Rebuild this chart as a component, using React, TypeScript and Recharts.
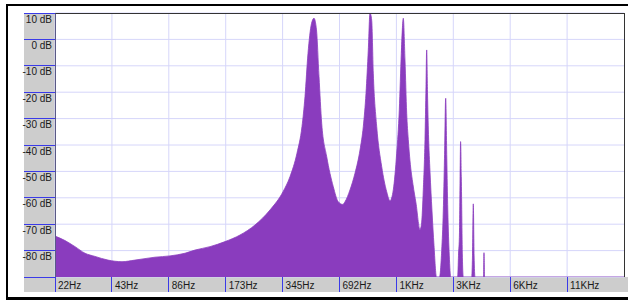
import { Area, AreaChart, CartesianGrid, XAxis, YAxis } from 'recharts';

// frequency bins (Hz) and level (dB)
const freqs = [
  21.53, 24.32, 27.47, 31.03, 35.05, 41.06, 48.7, 57.05, 72.8, 87.39,
  104.9, 118.5, 142.3, 170.8, 205.0, 246.1, 295.5, 346.2, 376.9, 410.5,
  436.3, 452.5, 469.4, 489.8, 505.0, 520.6, 536.7, 554.7, 589.4, 638.8,
  678.9, 716.3, 736.6, 783.0, 832.2, 884.5, 920.8, 951.6, 978.5, 998.9,
  1019.8, 1039.9, 1083.9, 1152.1, 1224.3, 1274.6, 1326.9, 1383.0, 1427.6, 1462.8,
  1498.9, 1530.1, 1562.2, 1592.9, 1626.3, 1686.7, 1749.4, 1836.7, 1870.6, 1912.2,
  1952.1, 1976.0, 1993.0, 2012.6, 2037.1, 2074.8, 2126.0, 2178.4, 2245.8, 2329.5,
  2392.6, 2439.8, 2475.7, 2512.1, 2546.1, 2577.2, 2624.9, 2670.0, 2907.4, 2936.0,
  2972.0, 2993.8, 3012.1, 3037.9, 3082.5, 3112.6, 3448.2, 3482.0, 3516.3, 3550.7,
  3589.9, 3981.3, 4005.4, 4034.9, 22050,
];

const levels = [
  -74.5, -76.2, -78.5, -81, -82.2, -83.6, -84.2, -83.6, -82.5, -82,
  -81, -79.8, -78.5, -76.6, -74.1, -70.3, -64.6, -57.7, -52, -43.1,
  -33, -21.7, -5.3, 6, 8, 3.6, -14, -31.8, -44.4, -55.8,
  -61.5, -62.5, -61.5, -57, -50.7, -41.9, -33, -20.4, -4, 10,
  7.3, -12.8, -33, -48.2, -57.7, -61.1, -57, -43.1, -26.7, -5.3,
  8, -7.8, -28, -38, -46, -55, -62, -72, -70, -57,
  -38, -18, -4, -20, -36, -50, -65, -78, -90, -90,
  -80, -65, -45, -22.3, -45, -64.6, -82, -90, -90, -82,
  -73, -52, -38.7, -52, -84, -90, -90, -82, -62.3, -82,
  -90, -90, -80.8, -90, -90,
];

const freqTicks = [21.53, 43.07, 86.13, 172.27, 344.53, 689.06, 1378.1, 2756.3, 5512.5, 11025];
const freqLabels = ['22Hz', '43Hz', '86Hz', '173Hz', '345Hz', '692Hz', '1KHz', '3KHz', '6KHz', '11KHz'];
const dbTicks = [10, 0, -10, -20, -30, -40, -50, -60, -70, -80, -90];

const data = freqs.map((f, i) => ({ f, db: levels[i] }));

const PURPLE = '#8a3cbe';
const PANEL = '#cdcdcd';
const TICK_BLUE = '#3a3ae8';
const FONT = '"Liberation Sans", Arial, sans-serif';

function DbTick(props: any) {
  const { x, y, payload } = props;
  const v = payload.value as number;
  return (
    <g>
      <line x1={x - 31} x2={x} y1={y} y2={y} stroke={TICK_BLUE} strokeWidth={1} shapeRendering="crispEdges" />
      {v > -90 && (
        <text x={x - 3} y={y + 9.5} textAnchor="end" fontSize={10} fontFamily={FONT} fill="#1a1a1a">
          {`${v} dB`}
        </text>
      )}
    </g>
  );
}

function FreqTick(props: any) {
  const { x, y, index } = props;
  return (
    <g>
      <line x1={x} x2={x} y1={y} y2={y + 15} stroke={TICK_BLUE} strokeWidth={1} shapeRendering="crispEdges" />
      <text x={x + 3} y={y + 12} textAnchor="start" fontSize={10} fontFamily={FONT} fill="#1a1a1a">
        {freqLabels[index]}
      </text>
    </g>
  );
}

export default function App() {
  return (
    <div style={{ position: 'fixed', left: 0, top: 0, width: 628, height: 300, background: '#fff', overflow: 'hidden' }}>
      {/* outer frame */}
      <div
        style={{
          position: 'absolute', left: 6, top: 4, width: 640, height: 296, boxSizing: 'border-box',
          borderTop: '2px solid #000', borderLeft: '2px solid #000', borderBottom: '3px solid #000',
        }}
      />
      {/* axis panels */}
      <div style={{ position: 'absolute', left: 24, top: 13, width: 31, height: 264, background: PANEL }} />
      <div style={{ position: 'absolute', left: 24, top: 277, width: 604, height: 15, background: PANEL }} />

      <div style={{ position: 'absolute', left: 0, top: 0 }}>
        <AreaChart width={628} height={300} data={data} margin={{ top: 13, right: 4, bottom: 8, left: 24 }}>
          <CartesianGrid stroke="#d6d6fa" horizontalValues={dbTicks} verticalValues={freqTicks} />
          <XAxis
            dataKey="f"
            type="number"
            scale="log"
            domain={[21.53, 22050]}
            allowDataOverflow
            ticks={freqTicks}
            interval={0}
            height={15}
            axisLine={false}
            tickLine={false}
            tickSize={0}
            tickMargin={0}
            tick={<FreqTick />}
          />
          <YAxis
            type="number"
            domain={[-90, 10]}
            allowDataOverflow
            ticks={dbTicks}
            interval={0}
            width={31}
            axisLine={false}
            tickLine={false}
            tickSize={0}
            tickMargin={0}
            tick={<DbTick />}
          />
          <Area
            type="monotone"
            dataKey="db"
            baseValue={-90}
            stroke={PURPLE}
            strokeWidth={0.8}
            fill={PURPLE}
            fillOpacity={1}
            dot={false}
            activeDot={false}
            isAnimationActive={false}
          />
        </AreaChart>
      </div>

      {/* plot border */}
      <div
        style={{
          position: 'absolute', left: 55, top: 13, width: 570, height: 264, boxSizing: 'border-box',
          borderTop: '1px solid #333', borderRight: '1px solid #333', borderLeft: '1px solid #5a5a86',
          pointerEvents: 'none',
        }}
      />
    </div>
  );
}
